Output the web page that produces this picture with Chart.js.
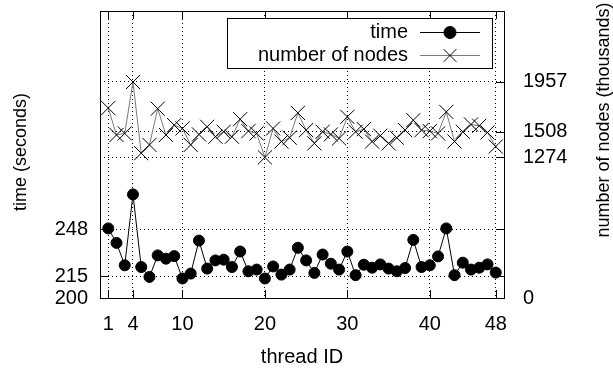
<!DOCTYPE html>
<html><head><meta charset="utf-8">
<script src="https://cdn.jsdelivr.net/npm/chart.js@4/dist/chart.umd.min.js"></script>
<style>html,body{margin:0;padding:0;background:#fff;}#wrap{width:613px;height:369px;}</style>
</head><body><div id="wrap"><canvas id="c" width="613" height="369"></canvas></div>
<script>
const threadIds = [1,2,3,4,5,6,7,8,9,10,11,12,13,14,15,16,17,18,19,20,21,22,23,24,25,26,27,28,29,30,31,32,33,34,35,36,37,38,39,40,41,42,43,44,45,46,47,48];
const timeSeconds = [248.5,238.4,222.8,272.2,221.6,214.7,229.7,227.4,229.2,213.6,217,240,220.5,226.2,226.7,221.6,232.4,218.6,219.8,213.6,222,216.3,219.8,235,226.2,217.5,230.3,223.9,219.8,232.4,215.9,223.2,221.1,223.4,220.5,218.6,220.9,240.5,221.6,222.8,229,248.5,215.9,224.6,219.8,221.1,223.4,217.7];
const nodesThousands = [1721,1477,1491,1957,1312,1387,1715,1477,1566,1536,1387,1482,1551,1461,1506,1461,1620,1512,1491,1274,1536,1417,1452,1677,1521,1401,1506,1482,1446,1641,1506,1530,1417,1470,1401,1452,1521,1611,1521,1512,1491,1686,1417,1506,1572,1560,1500,1372];
const xTicks = [1,4,10,20,30,40,48];
const timeTicks = [200,215,248];
const nodeTicks = [0,1274,1508,1957];

const FONT = {family: '"Liberation Sans", Arial, sans-serif', size: 20};
const FONTSTR = '20px "Liberation Sans", Arial, sans-serif';
const TITLEFONT = '18px "Liberation Sans", Arial, sans-serif';

const framePlugin = {
  id: 'frame',
  afterDraw(chart) {
    const ctx = chart.ctx, a = chart.chartArea;
    const sx = chart.scales.x, yl = chart.scales.y, yr = chart.scales.y2;
    ctx.save();
    ctx.strokeStyle = '#000'; ctx.lineWidth = 1;
    ctx.strokeRect(Math.round(a.left)+0.5, Math.round(a.top)+0.5, Math.round(a.right-a.left), Math.round(a.bottom-a.top));
    const T = 8;
    ctx.beginPath();
    xTicks.forEach(v => {
      const px = Math.round(sx.getPixelForValue(v)) + 0.5;
      ctx.moveTo(px, a.bottom); ctx.lineTo(px, a.bottom - T);
      ctx.moveTo(px, a.top); ctx.lineTo(px, a.top + T);
    });
    timeTicks.forEach(v => {
      const py = Math.round(yl.getPixelForValue(v)) + 0.5;
      ctx.moveTo(a.left, py); ctx.lineTo(a.left + T, py);
      ctx.moveTo(a.right, py); ctx.lineTo(a.right - T, py);
    });
    nodeTicks.forEach(v => {
      const py = Math.round(yr.getPixelForValue(v)) + 0.5;
      ctx.moveTo(a.right, py); ctx.lineTo(a.right - T, py);
    });
    ctx.stroke();

    // axis titles
    ctx.fillStyle = '#000'; ctx.font = FONTSTR;
    ctx.textAlign = 'center'; ctx.textBaseline = 'middle';
    ctx.fillText(sx.options.title.text, 302, 357);
    ctx.font = TITLEFONT;
    ctx.save(); ctx.translate(21, 152); ctx.rotate(-Math.PI/2);
    ctx.fillText(yl.options.title.text, 0, 0); ctx.restore();
    ctx.save(); ctx.translate(604, 120); ctx.rotate(-Math.PI/2);
    ctx.fillText(yr.options.title.text, 0, 0); ctx.restore();

    // legend
    ctx.font = FONTSTR;
    const bx = 227, by = 18, bw = 265, bh = 50;
    ctx.fillStyle = '#fff';
    ctx.fillRect(bx, by, bw, bh);
    ctx.strokeStyle = '#000';
    ctx.strokeRect(bx+0.5, by+0.5, bw, bh);
    const rows = [32, 55];
    chart.data.datasets.forEach((ds, i) => {
      const y = rows[i];
      ctx.fillStyle = '#000'; ctx.textAlign = 'right'; ctx.textBaseline = 'middle';
      ctx.fillText(ds.label, 408, y);
      ctx.beginPath(); ctx.strokeStyle = ds.borderColor; ctx.lineWidth = 1;
      ctx.moveTo(420, Math.round(y)+0.5); ctx.lineTo(480, Math.round(y)+0.5); ctx.stroke();
      ctx.fillStyle = ds.pointBackgroundColor; ctx.strokeStyle = ds.pointBorderColor;
      Chart.helpers.drawPoint(ctx, {pointStyle: ds.pointStyle, radius: ds.pointStyle === 'circle' ? 6 : 9, borderWidth: 1}, 450, Math.round(y)+0.5);
    });
    ctx.restore();
  }
};

const plain = v => String(v);

new Chart(document.getElementById('c'), {
  type: 'line',
  data: {
    datasets: [
      {label: 'time', data: threadIds.map((t,i)=>({x:t, y:timeSeconds[i]})), yAxisID: 'y',
       borderColor: '#000', backgroundColor: '#000', pointBackgroundColor: '#000', pointBorderColor: '#000',
       borderWidth: 1, pointStyle: 'circle', pointRadius: 5.5, pointBorderWidth: 1, tension: 0},
      {label: 'number of nodes', data: threadIds.map((t,i)=>({x:t, y:nodesThousands[i]})), yAxisID: 'y2',
       borderColor: '#7a7a7a', backgroundColor: '#000', pointBackgroundColor: '#000', pointBorderColor: '#000',
       borderWidth: 1, pointStyle: 'crossRot', pointRadius: 10, pointBorderWidth: 1, tension: 0}
    ]
  },
  options: {
    responsive: false, animation: false, devicePixelRatio: 1,
    layout: {padding: {top: 8, left: 0, right: 0, bottom: 0}},
    plugins: {legend: {display: false}, tooltip: {enabled: false}},
    events: [],
    scales: {
      x: {type: 'linear', position: 'bottom', min: 0, max: 49,
          afterBuildTicks: s => { s.ticks = xTicks.map(v => ({value: v})); },
          afterFit: s => { s.height = 71; s.paddingLeft = 0; s.paddingRight = 0; },
          ticks: {color: '#000', font: FONT, padding: 14, maxRotation: 0, autoSkip: false, callback: plain},
          grid: {color: '#000', lineWidth: 1, drawTicks: false},
          border: {display: false, dash: [1, 3]},
          title: {display: false, text: 'thread ID'}},
      y: {type: 'linear', position: 'left', min: 200, max: 400,
          afterBuildTicks: s => { s.ticks = timeTicks.map(v => ({value: v})); },
          afterFit: s => { s.width = 100; s.paddingTop = 0; s.paddingBottom = 0; },
          ticks: {color: '#000', font: FONT, padding: 12, autoSkip: false, callback: plain},
          grid: {color: '#000', lineWidth: 1, drawTicks: false},
          border: {display: false, dash: [1, 3]},
          title: {display: false, text: 'time (seconds)'}},
      y2: {type: 'linear', position: 'right', min: 0, max: 2600,
          afterBuildTicks: s => { s.ticks = nodeTicks.map(v => ({value: v})); },
          afterFit: s => { s.width = 109; s.paddingTop = 0; s.paddingBottom = 0; },
          ticks: {color: '#000', font: FONT, padding: 19, autoSkip: false, callback: plain},
          grid: {color: '#000', lineWidth: 1, drawTicks: false},
          border: {display: false, dash: [1, 3]},
          title: {display: false, text: 'number of nodes (thousands)'}}
    }
  },
  plugins: [framePlugin]
});
</script></body></html>
